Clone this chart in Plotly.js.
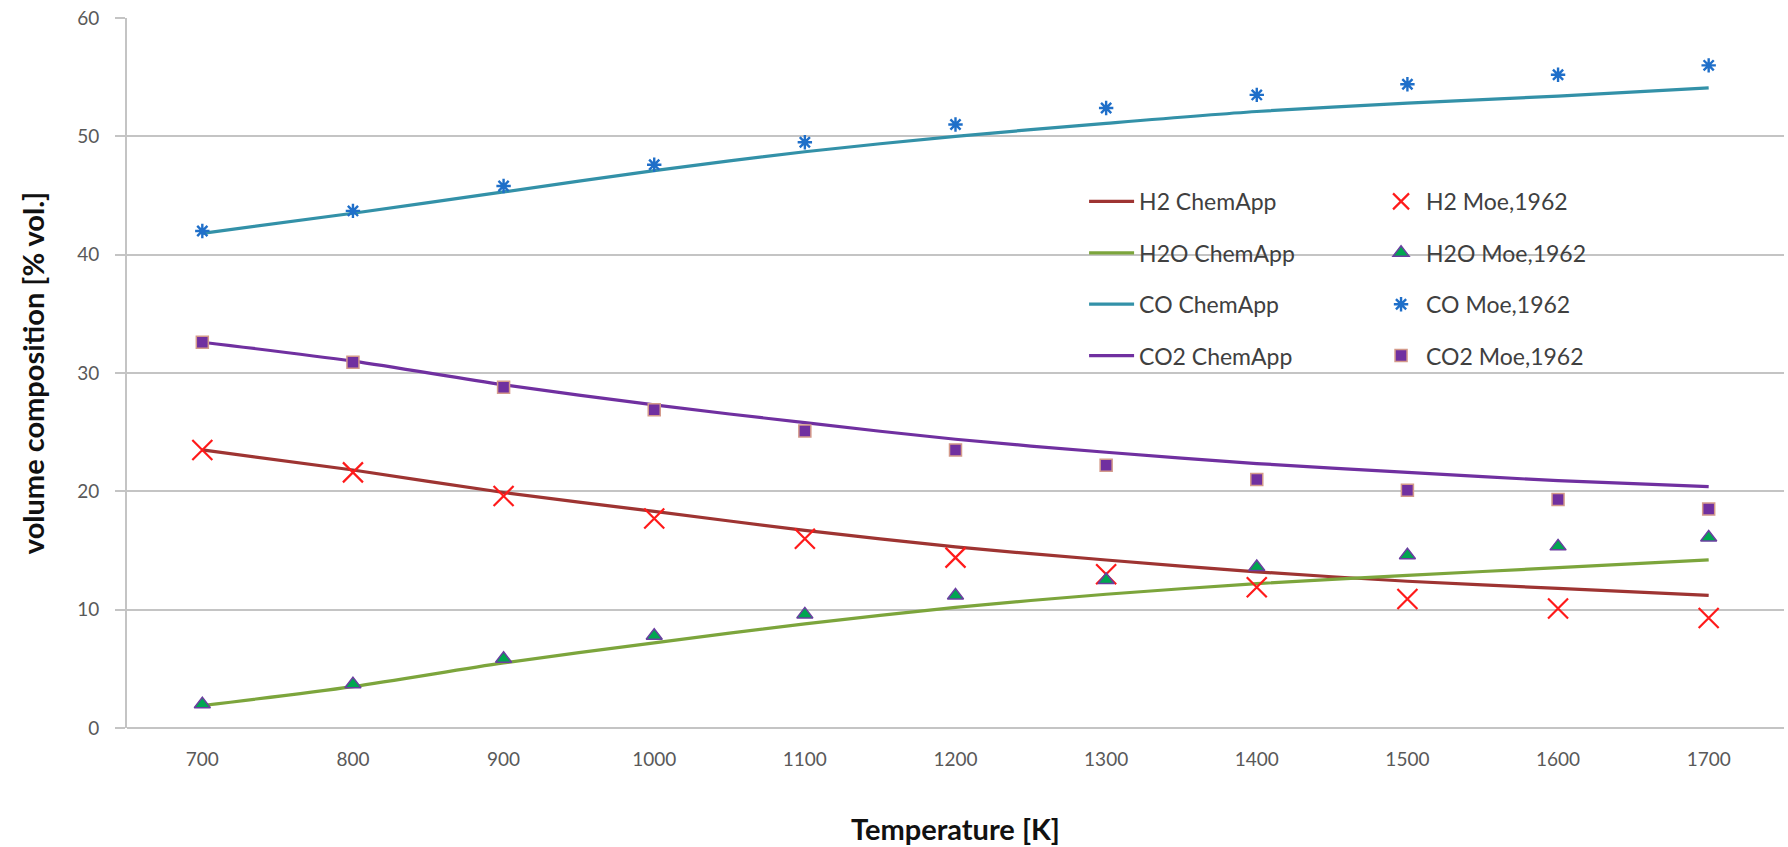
<!DOCTYPE html>
<html>
<head>
<meta charset="utf-8">
<script src="https://cdn.plot.ly/plotly-3.0.1.min.js"></script>
<style>html,body{margin:0;padding:0;background:#fff;}#chart{width:1788px;height:847px;}</style>
</head>
<body>
<div id="chart"></div>
<script>
// Temperatures [K] (category axis)
const temps = [700, 800, 900, 1000, 1100, 1200, 1300, 1400, 1500, 1600, 1700];
const tickLabels = ["700", "800", "900", "1000", "1100", "1200", "1300", "1400", "1500", "1600", "1700"];

// ChemApp calculated curves [% vol.]
const h2ChemApp  = [23.5, 21.8, 19.9, 18.3, 16.7, 15.3, 14.2, 13.2, 12.4, 11.8, 11.2];
const h2oChemApp = [1.9, 3.5, 5.5, 7.2, 8.8, 10.2, 11.3, 12.2, 12.9, 13.55, 14.2];
const coChemApp  = [41.8, 43.5, 45.3, 47.1, 48.7, 50.0, 51.1, 52.1, 52.8, 53.4, 54.1];
const co2ChemApp = [32.6, 31.0, 29.0, 27.3, 25.8, 24.4, 23.3, 22.35, 21.6, 20.9, 20.4];

// Moe, 1962 measured points [% vol.]
const h2Moe  = [23.5, 21.6, 19.6, 17.7, 16.0, 14.4, 13.0, 11.9, 10.9, 10.1, 9.3];
const h2oMoe = [2.0, 3.7, 5.85, 7.8, 9.6, 11.2, 12.5, 13.6, 14.6, 15.35, 16.1];
const coMoe  = [42.0, 43.7, 45.8, 47.6, 49.5, 51.0, 52.4, 53.5, 54.4, 55.2, 56.0];
const co2Moe = [32.6, 30.9, 28.8, 26.9, 25.1, 23.5, 22.2, 21.0, 20.1, 19.3, 18.5];

const lineNames = ["H2 ChemApp", "H2O ChemApp", "CO ChemApp", "CO2 ChemApp"];
const moeNames = ["H2 Moe,1962", "H2O Moe,1962", "CO Moe,1962", "CO2 Moe,1962"];

const FONT = "Lato, 'Open Sans', sans-serif";

function lineTrace(name, y, color, grp) {
  return {
    type: "scatter", mode: "lines", name: name, x: temps, y: y,
    line: {color: color, width: 3.2, shape: "spline", smoothing: 0.8},
    legend: "legend", legendgroup: grp
  };
}
function markerTrace(name, y, marker, grp) {
  return {
    type: "scatter", mode: "markers", name: name, x: temps, y: y,
    marker: marker, legend: "legend2", legendgroup: grp
  };
}

const data = [
  lineTrace(lineNames[0], h2ChemApp, "#9E3432", "a1"),
  lineTrace(lineNames[1], h2oChemApp, "#7CA53C", "a2"),
  lineTrace(lineNames[2], coChemApp, "#3391A8", "a3"),
  lineTrace(lineNames[3], co2ChemApp, "#7030A0", "a4"),
  markerTrace(moeNames[0], h2Moe, {symbol: "x-thin-open", size: 20, color: "#FF1A1A", line: {color: "#FF1A1A", width: 2.2}}, "b1"),
  markerTrace(moeNames[1], h2oMoe, {symbol: "triangle-up", size: 14, color: "#00A651", line: {color: "#6A3FA0", width: 1.5}}, "b2"),
  markerTrace(moeNames[2], coMoe, {symbol: "asterisk-open", size: 12, color: "#1F6FC9", line: {color: "#1F6FC9", width: 2.4}}, "b3"),
  markerTrace(moeNames[3], co2Moe, {symbol: "square", size: 12, color: "#7030A0", line: {color: "#D49A8A", width: 1.5}}, "b4")
];

const legendCommon = {
  orientation: "v", yanchor: "top", xanchor: "left",
  bgcolor: "rgba(0,0,0,0)", borderwidth: 0,
  font: {family: FONT, size: 23, color: "#404040"},
  tracegroupgap: 18.5, traceorder: "grouped"
};

const layout = {
  width: 1788, height: 847,
  margin: {l: 127, r: 4, t: 18, b: 119},
  paper_bgcolor: "#ffffff", plot_bgcolor: "#ffffff",
  font: {family: FONT, color: "#595959"},
  showlegend: true,
  xaxis: {
    type: "linear", range: [650, 1750],
    tickmode: "array", tickvals: temps, ticktext: tickLabels,
    showgrid: false, zeroline: false, showline: false, ticks: "",
    ticklabelstandoff: 18,
    tickfont: {family: FONT, size: 19, color: "#595959"},
    title: {text: "Temperature [K]", font: {family: FONT, size: 29, color: "#111111", weight: "bold"}, standoff: 50}
  },
  yaxis: {
    range: [0, 60], dtick: 10, tick0: 0,
    showgrid: true, gridcolor: "#C4C4C4", gridwidth: 1.8,
    zeroline: true, zerolinecolor: "#C4C4C4", zerolinewidth: 1.8,
    showline: true, linecolor: "#C4C4C4", linewidth: 1.8,
    ticks: "outside", ticklen: 10, tickcolor: "#C4C4C4", tickwidth: 1.8,
    ticklabelstandoff: 12,
    tickfont: {family: FONT, size: 19, color: "#595959"},
    title: {text: "volume composition [% vol.]", font: {family: FONT, size: 29, color: "#111111", weight: "bold"}, standoff: 24}
  },
  legend: Object.assign({}, legendCommon, {x: 0.5776, y: 0.7719, itemwidth: 45}),
  legend2: Object.assign({}, legendCommon, {x: 0.7538, y: 0.7719, itemwidth: 40})
};

Plotly.newPlot("chart", data, layout, {displayModeBar: false, staticPlot: true});
</script>
</body>
</html>
